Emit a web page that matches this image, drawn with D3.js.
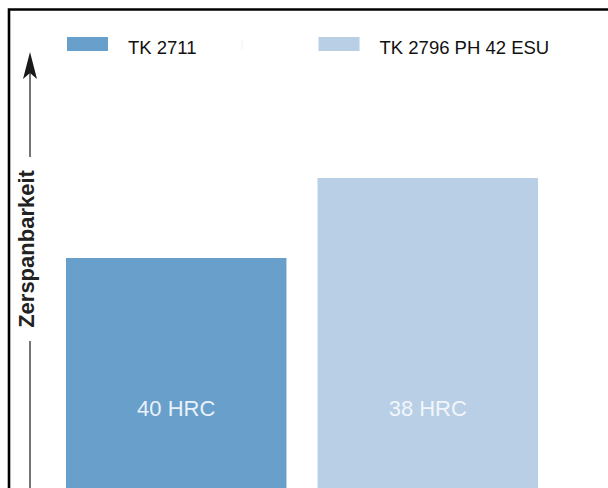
<!DOCTYPE html>
<html>
<head>
<meta charset="utf-8">
<script src="https://cdn.jsdelivr.net/npm/d3@7"></script>
<style>
  html, body { margin: 0; padding: 0; background: #fff; }
  svg { display: block; }
  text { font-family: "Liberation Sans", Arial, Helvetica, sans-serif; }
</style>
</head>
<body>
<svg id="chart" width="608" height="488"></svg>
<script>
// ---- data ----
const categories = ["TK 2711", "TK 2796 PH 42 ESU"];
const machinability = [23, 31];          // relative Zerspanbarkeit (no scale shown)
const hardnessLabels = ["40 HRC", "38 HRC"];
const colors = ["#689fcb", "#b8cfe6"];
const labelColors = ["#eaf1f8", "#f2f6fb"];
const axisTitle = "Zerspanbarkeit";

const W = 608, H = 488;
const svg = d3.select("#chart");

const x = d3.scaleBand().domain(categories).range([66, 538]).paddingInner(0.1235).paddingOuter(0);
const y = d3.scaleLinear().domain([0, 40]).range([488, 88]);

// frame (top and left)
svg.append("path")
  .attr("d", `M9,${H + 5} L9,9.5 L${W + 5},9.5`)
  .attr("fill", "none").attr("stroke", "#000").attr("stroke-width", 2.6);

// bars
svg.selectAll("rect.bar").data(categories).enter().append("rect")
  .attr("class", "bar")
  .attr("x", d => x(d))
  .attr("y", (d, i) => y(machinability[i]))
  .attr("width", x.bandwidth())
  .attr("height", (d, i) => y(0) - y(machinability[i]) + 10)
  .attr("fill", (d, i) => colors[i]);

// bar labels
svg.selectAll("text.blabel").data(categories).enter().append("text")
  .attr("class", "blabel")
  .attr("x", d => x(d) + x.bandwidth() / 2)
  .attr("y", 416)
  .attr("text-anchor", "middle")
  .attr("font-size", 22)
  .attr("fill", (d, i) => labelColors[i])
  .text((d, i) => hardnessLabels[i]);

// legend
const lg = svg.selectAll("g.leg").data(categories).enter().append("g").attr("class", "leg")
  .attr("transform", d => `translate(${x(d) + 1},37)`);
lg.append("rect").attr("width", 41).attr("height", 14).attr("fill", (d, i) => colors[i]);
lg.append("text").attr("x", 61).attr("y", 16.5).attr("font-size", 18.5).attr("fill", "#111").text(d => d);

// faint separator mark in legend
svg.append("line").attr("x1", 242).attr("x2", 242).attr("y1", 39).attr("y2", 50)
  .attr("stroke", "#f2f2f2").attr("stroke-width", 1);

// y axis arrow + title
const ax = 30;
const yMid = 249;
const titleHalf = 88;
svg.append("line").attr("x1", ax).attr("x2", ax).attr("y1", 72).attr("y2", yMid - titleHalf - 4)
  .attr("stroke", "#666").attr("stroke-width", 1.8);
svg.append("line").attr("x1", ax).attr("x2", ax).attr("y1", yMid + titleHalf + 4).attr("y2", H + 5)
  .attr("stroke", "#666").attr("stroke-width", 1.8);
svg.append("path")
  .attr("d", `M${ax},52 L${ax + 7},79 L${ax},73 L${ax - 7},79 Z`)
  .attr("fill", "#1a1a1a");
svg.append("text")
  .attr("transform", `translate(${ax + 3.5},${yMid}) rotate(-90)`)
  .attr("text-anchor", "middle")
  .attr("font-size", 22)
  .attr("font-weight", "bold")
  .attr("fill", "#222")
  .text(axisTitle);
</script>
</body>
</html>
